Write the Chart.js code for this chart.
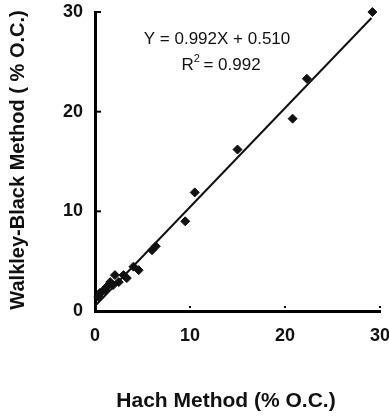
<!DOCTYPE html>
<html>
<head>
<meta charset="utf-8">
<script src="https://cdn.jsdelivr.net/npm/chart.js"></script>
<style>
  html, body { margin: 0; padding: 0; background: #fff; }
  canvas { display: block; }
</style>
</head>
<body>
<canvas id="chart" width="389" height="416"></canvas>
<script>
// Hach method (x) vs Walkley-Black method (y), % O.C.
const hachValues = [0.35, 0.5, 0.7, 1.05, 1.2, 1.6, 1.9, 2.1, 2.5, 3.0, 3.35, 4.05, 4.6, 6.0, 6.4, 9.5, 10.5, 15.0, 20.8, 22.3, 29.2];
const walkleyValues = [1.4, 1.8, 1.9, 2.1, 2.4, 2.9, 2.6, 3.6, 2.9, 3.6, 3.3, 4.45, 4.1, 6.1, 6.5, 9.0, 11.9, 16.2, 19.3, 23.3, 30.0];

// fitted line end points
const fitX = [0, 29.1];
const fitY = [0.5, 29.4];

const tickValues = [0, 10, 20, 30];
const equationText = "Y = 0.992X + 0.510";
const r2Text = "0.992";
const xTitle = "Hach Method (% O.C.)";
const yTitle = "Walkley-Black Method ( % O.C.)";

const FONT = "'Liberation Sans', Arial, sans-serif";

const extras = {
  id: "extras",
  afterDraw(chart) {
    const { ctx, chartArea, scales } = chart;
    const x = scales.x, y = scales.y;
    ctx.save();
    ctx.strokeStyle = "#000";
    ctx.lineWidth = 2;
    // inward ticks
    tickValues.slice(1).forEach((v) => {
      const py = y.getPixelForValue(v);
      ctx.beginPath();
      ctx.moveTo(chartArea.left, py);
      ctx.lineTo(chartArea.left + 6, py);
      ctx.stroke();
      const px = x.getPixelForValue(v);
      ctx.beginPath();
      ctx.moveTo(px, chartArea.bottom - 5);
      ctx.lineTo(px, chartArea.bottom - 3);
      ctx.stroke();
    });

    ctx.fillStyle = "#111";
    ctx.textAlign = "center";
    ctx.textBaseline = "middle";
    // equation
    ctx.font = "17px " + FONT;
    ctx.fillText(equationText, 217, 39);
    const rest = " = " + r2Text;
    const wR = ctx.measureText("R").width;
    const wRest = ctx.measureText(rest).width;
    const startX = 221 - (wR + 5 + wRest) / 2;
    ctx.textAlign = "left";
    ctx.fillText("R", startX, 65);
    ctx.font = "11px " + FONT;
    ctx.fillText("2", startX + wR, 59);
    ctx.font = "17px " + FONT;
    ctx.fillText(rest, startX + wR + 5, 65);

    // axis titles
    ctx.textAlign = "center";
    ctx.font = "bold 21px " + FONT;
    ctx.fillText(xTitle, 226, 401);
    ctx.font = "bold 20px " + FONT;
    ctx.translate(18, 160);
    ctx.rotate(-Math.PI / 2);
    ctx.fillText(yTitle, 0, 0);
    ctx.restore();
  },
};

new Chart(document.getElementById("chart"), {
  type: "scatter",
  data: {
    datasets: [
      {
        data: hachValues.map((v, i) => ({ x: v, y: walkleyValues[i] })),
        pointStyle: "rectRot",
        pointRadius: 4.5,
        backgroundColor: "#111",
        borderColor: "#111",
        borderWidth: 1,
        clip: false,
      },
      {
        type: "line",
        data: fitX.map((v, i) => ({ x: v, y: fitY[i] })),
        borderColor: "#111",
        borderWidth: 2,
        pointRadius: 0,
        fill: false,
        clip: false,
      },
    ],
  },
  options: {
    responsive: false,
    animation: false,
    layout: { padding: { top: 12, right: 9, bottom: 0, left: 0 } },
    plugins: {
      legend: { display: false },
      tooltip: { enabled: false },
    },
    scales: {
      x: {
        type: "linear",
        min: 0,
        max: 30,
        afterFit: (s) => {
          s.height = 105;
          s.paddingLeft = 0;
          s.paddingRight = 0;
        },
        afterBuildTicks: (s) => { s.ticks = tickValues.map((v) => ({ value: v })); },
        ticks: {
          padding: 14,
          color: "#111",
          font: { family: FONT, size: 18, weight: "bold" },
        },
        grid: { display: false, drawTicks: false },
        border: { display: true, width: 3, color: "#000" },
      },
      y: {
        type: "linear",
        min: 0,
        max: 30,
        afterFit: (s) => {
          s.width = 95;
          s.paddingTop = 0;
          s.paddingBottom = 0;
        },
        afterBuildTicks: (s) => { s.ticks = tickValues.map((v) => ({ value: v })); },
        ticks: {
          padding: 12,
          color: "#111",
          font: { family: FONT, size: 18, weight: "bold" },
        },
        grid: { display: false, drawTicks: false },
        border: { display: true, width: 3, color: "#000" },
      },
    },
  },
  plugins: [extras],
});
</script>
</body>
</html>
